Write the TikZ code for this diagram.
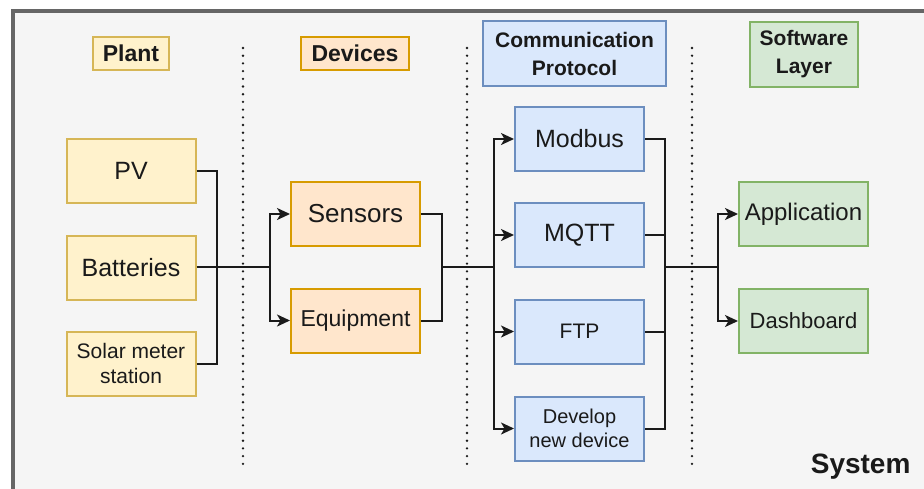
\documentclass[tikz,border=0pt]{standalone}
\usepackage{fontspec}
\setmainfont{Liberation Sans}
\usetikzlibrary{arrows.meta}
\definecolor{framegray}{HTML}{666666}
\definecolor{bgray}{HTML}{F5F5F5}
\definecolor{ylwfill}{HTML}{FFF2CC}\definecolor{ylwline}{HTML}{D6B656}
\definecolor{orgfill}{HTML}{FFE6CC}\definecolor{orgline}{HTML}{D79B00}
\definecolor{blufill}{HTML}{DAE8FC}\definecolor{bluline}{HTML}{6C8EBF}
\definecolor{grnfill}{HTML}{D5E8D4}\definecolor{grnline}{HTML}{82B366}
\definecolor{ink}{HTML}{1A1A1A}
\newcommand{\fsz}[2]{\fontsize{#1}{#2}\selectfont}
\tikzset{
  box/.style={draw, line width=2pt, minimum width=129pt, minimum height=64pt,
    inner sep=2pt, align=center, text=ink},
  plantbox/.style={box, fill=ylwfill, draw=ylwline},
  devbox/.style={box, fill=orgfill, draw=orgline},
  protbox/.style={box, fill=blufill, draw=bluline},
  softbox/.style={box, fill=grnfill, draw=grnline},
  head/.style={line width=2pt, inner sep=2pt, align=center, text=ink,
    font=\bfseries},
  link/.style={draw=ink, line width=2pt},
  arr/.style={link, -{Stealth[length=13pt,width=12pt,inset=3.5pt]}},
  sep/.style={draw=ink, line width=2.6pt, line cap=round,
    dash pattern=on 0pt off 7.7pt}
}
\begin{document}
\begin{tikzpicture}[x=1pt,y=-1pt]
\useasboundingbox (0,0) rectangle (924,488);
\clip (0,0) rectangle (924,488);
\fill[white] (0,0) rectangle (924,488);
% system frame
\draw[framegray, fill=bgray, line width=3.5pt] (13,11) rectangle (940,500);
\node[anchor=east, font=\bfseries\fsz{28}{32}, text=ink] (sys) at (914,467) {System};

% column separators
\draw[sep] (243,48) -- (243,470);
\draw[sep] (467,48) -- (467,470);
\draw[sep] (692,48) -- (692,470);

% column headings
\node[head, fill=ylwfill, draw=ylwline, minimum width=76pt, minimum height=33pt, font=\bfseries\fsz{23}{27}] (hplant) at (131,53.5) {Plant};
\node[head, fill=orgfill, draw=orgline, minimum width=108pt, minimum height=33pt, font=\bfseries\fsz{23}{27}] (hdev) at (355,53.5) {Devices};
\node[head, fill=blufill, draw=bluline, minimum width=183pt, minimum height=65pt, font=\bfseries\fsz{21}{28}] (hcomm) at (574.5,53.5) {Communication\\Protocol};
\node[head, fill=grnfill, draw=grnline, minimum width=108pt, minimum height=65pt, font=\bfseries\fsz{21}{28}] (hsoft) at (804,54) {Software\\Layer};

% plant
\node[plantbox, font=\fsz{25}{29}] (pv) at (131,171) {PV};
\node[plantbox, font=\fsz{25}{29}] (bat) at (131,267.5) {Batteries};
\node[plantbox, font=\fsz{21}{25}] (solar) at (131,363.5) {Solar meter\\station};

% devices
\node[devbox, font=\fsz{26}{30}] (sens) at (355.5,214) {Sensors};
\node[devbox, font=\fsz{23}{27}] (equip) at (355.5,320.5) {Equipment};

% protocols
\node[protbox, font=\fsz{25}{29}] (modbus) at (579.5,139) {Modbus};
\node[protbox, font=\fsz{25}{29}] (mqtt) at (579.5,235) {MQTT};
\node[protbox, font=\fsz{21}{25}] (ftp) at (579.5,331.5) {FTP};
\node[protbox, font=\fsz{20}{24}] (dev) at (579.5,428.5) {Develop\\new device};

% software
\node[softbox, font=\fsz{24}{28}] (app) at (803.5,214) {Application};
\node[softbox, font=\fsz{22}{26}] (dash) at (803.5,321) {Dashboard};

% junction points
\coordinate (j1) at (217,267);
\coordinate (j2) at (270,267);
\coordinate (j3) at (442,267);
\coordinate (j4) at (494,267);
\coordinate (j5) at (665,267);
\coordinate (j6) at (718,267);

% plant -> devices
\draw[link] (pv.east) -| (j1);
\draw[link] (solar.east) -| (j1);
\draw[link] (bat.east |- j1) -- (j2);
\draw[arr] (j2) |- (sens.west);
\draw[arr] (j2) |- (equip.west);

% devices -> protocols
\draw[link] (sens.east) -| (j3);
\draw[link] (equip.east) -| (j3);
\draw[link] (j3) -- (j4);
\draw[arr] (j4) |- (modbus.west);
\draw[arr] (j4) |- (mqtt.west);
\draw[arr] (j4) |- (ftp.west);
\draw[arr] (j4) |- (dev.west);

% protocols -> software
\draw[link] (modbus.east) -| (j5);
\draw[link] (mqtt.east) -| (j5);
\draw[link] (ftp.east) -| (j5);
\draw[link] (dev.east) -| (j5);
\draw[link] (j5) -- (j6);
\draw[arr] (j6) |- (app.west);
\draw[arr] (j6) |- (dash.west);
\end{tikzpicture}
\end{document}
